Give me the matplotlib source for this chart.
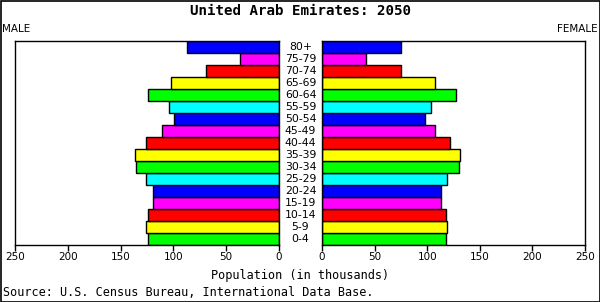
import matplotlib
matplotlib.use("Agg")
import matplotlib.pyplot as plt
from matplotlib.patches import Rectangle

ages = ["0-4", "5-9", "10-14", "15-19", "20-24", "25-29", "30-34", "35-39",
        "40-44", "45-49", "50-54", "55-59", "60-64", "65-69", "70-74", "75-79", "80+"]
male = [124, 126, 124, 119, 119.5, 126, 135.5, 136.5, 126, 110.5, 99, 104, 124.5, 102, 69, 37, 87.5]
female = [117.5, 119, 117.5, 113.5, 113, 119, 130, 131, 121.5, 107, 97.5, 103.5, 127.5, 107, 75, 41.5, 75]
palette = ["#00FF00", "#FFFF00", "#FF0000", "#FF00FF", "#0000FF", "#00FFFF"]
ticks = [0, 50, 100, 150, 200, 250]

W, H = 600, 302
fig = plt.figure(figsize=(W / 100, H / 100), dpi=100)
fig.patch.set_facecolor("white")

def px(x0, y0, x1, y1):
    return [x0 / W, 1 - y1 / H, (x1 - x0) / W, (y1 - y0) / H]

axL = fig.add_axes(px(15, 41, 279, 245))
axR = fig.add_axes(px(322, 41, 585, 245))
colors = [palette[i % len(palette)] for i in range(len(ages))]
ypos = list(range(len(ages)))

for ax, vals in ((axL, male), (axR, female)):
    ax.barh(ypos, vals, height=1.0, color=colors, edgecolor="black", linewidth=1.0)
    ax.set_ylim(-0.5, len(ages) - 0.5)
    ax.set_yticks([])
    ax.set_xticks(ticks)
    ax.set_xticklabels([str(t) for t in ticks], fontsize=7.5, family="DejaVu Sans")
    ax.tick_params(axis="x", direction="out", length=4, width=1, pad=1, color="black")
    for s in ax.spines.values():
        s.set_linewidth(1.0)
        s.set_color("black")

axL.set_xlim(250, 0)
axR.set_xlim(0, 250)

for i, a in enumerate(ages):
    y = 1 - (41 + (len(ages) - 1 - i + 0.5) * (204 / len(ages))) / H
    fig.text(300.5 / W, y, a, ha="center", va="center", fontsize=7.8, family="DejaVu Sans")

fig.text(300 / W, 1 - 11 / H, "United Arab Emirates: 2050", ha="center", va="center",
         fontsize=10.2, fontweight="bold", family="DejaVu Sans Mono")
fig.text(2 / W, 1 - 29 / H, "MALE", ha="left", va="center", fontsize=7.5, family="DejaVu Sans")
fig.text(598 / W, 1 - 29 / H, "FEMALE", ha="right", va="center", fontsize=7.5, family="DejaVu Sans")
fig.text(300 / W, 1 - 275 / H, "Population (in thousands)", ha="center", va="center",
         fontsize=8.6, family="DejaVu Sans Mono")
fig.text(3 / W, 1 - 293 / H, "Source: U.S. Census Bureau, International Data Base.", ha="left",
         va="center", fontsize=8.5, family="DejaVu Sans Mono")

fig.patches.append(Rectangle((0.5 / W, 0.5 / H), 1 - 1 / W, 1 - 1 / H, transform=fig.transFigure,
                             fill=False, edgecolor="black", linewidth=1.2))

fig.savefig("out.png", dpi=100)
